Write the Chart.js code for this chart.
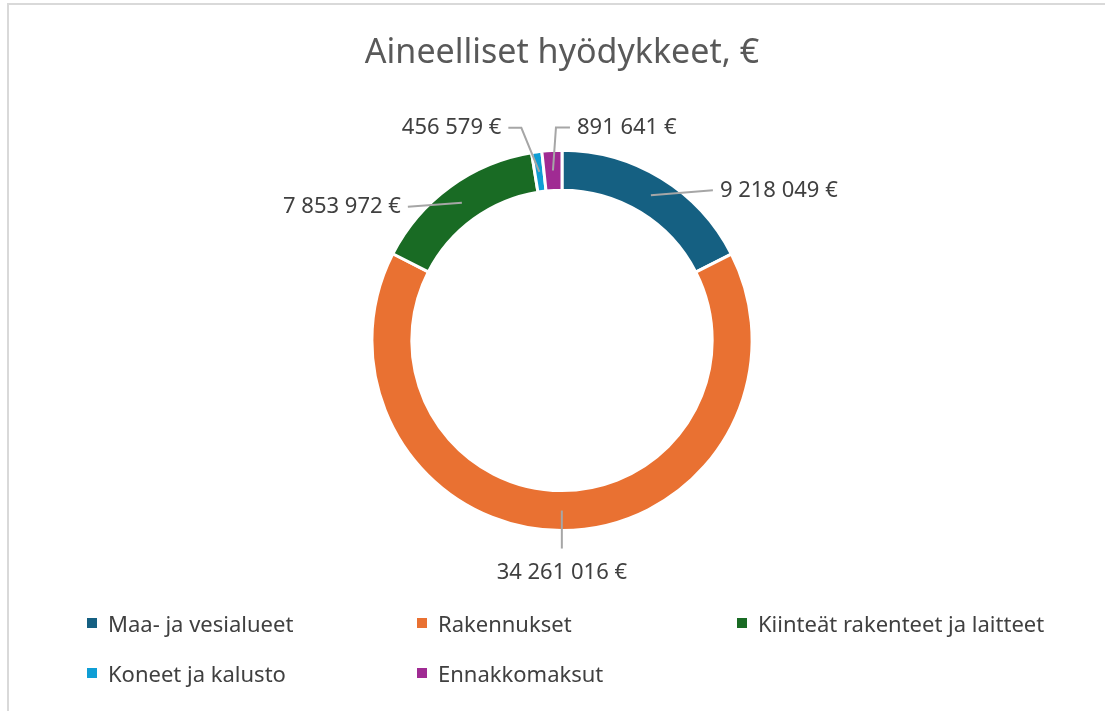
<!DOCTYPE html>
<html>
<head>
<meta charset="utf-8">
<script src="https://cdn.jsdelivr.net/npm/chart.js@4"></script>
<style>
  html, body { margin: 0; padding: 0; background: #fff; }
  #wrap { position: relative; width: 1105px; height: 711px; overflow: hidden; }
  #frame { position: absolute; left: 7px; top: 3px; width: 1200px; height: 800px; border: 2px solid #d9d9d9; box-sizing: border-box; }
  #c { position: absolute; left: 0; top: 0; }
  #legend { position: absolute; left: 87px; top: 607px; display: grid; grid-template-columns: 330px 320px auto; row-gap: 18px;
            font-family: "Noto Sans", sans-serif; font-size: 22px; color: #404040; }
  #legend div { display: flex; align-items: center; height: 32px; white-space: nowrap; }
  #legend span.box { display: inline-block; width: 10px; height: 10px; margin-right: 11px; }
</style>
</head>
<body>
<div id="wrap">
  <div id="frame"></div>
  <canvas id="c" width="1105" height="711"></canvas>
  <div id="legend"></div>
</div>
<script>
// Luokat ja arvot (€)
const categories = ["Maa- ja vesialueet", "Rakennukset", "Kiinteät rakenteet ja laitteet", "Koneet ja kalusto", "Ennakkomaksut"];
const values = [9218049, 34261016, 7853972, 456579, 891641];
const colors = ["#156082", "#E97132", "#196B24", "#0F9ED5", "#A02B93"];

// Selitelinjojen taitepisteet suhteessa renkaan keskikohtaan
const labelOffsets = [
  { pts: [[62, -5]], align: "left" },
  { pts: [[0, 38]], align: "below" },
  { pts: [[-54, 4]], align: "right" },
  { pts: [[-18, -44], [-31, -44]], align: "right" },
  { pts: [[3, -43], [17, -43]], align: "left" }
];

function fmt(v) {
  return String(v).replace(/\B(?=(\d{3})+(?!\d))/g, " ") + " €";
}

const leaderLabels = {
  id: "leaderLabels",
  afterDatasetsDraw(chart) {
    const ctx = chart.ctx;
    const meta = chart.getDatasetMeta(0);
    ctx.save();
    meta.data.forEach((arc, i) => {
      const p = arc.getProps(["x", "y", "startAngle", "endAngle", "innerRadius", "outerRadius"], true);
      const a = (p.startAngle + p.endAngle) / 2;
      const r = (p.innerRadius + p.outerRadius) / 2;
      const x0 = p.x + Math.cos(a) * r;
      const y0 = p.y + Math.sin(a) * r;
      const lay = labelOffsets[i];
      ctx.strokeStyle = "#a6a6a6";
      ctx.lineWidth = 2;
      ctx.beginPath();
      ctx.moveTo(x0, y0);
      lay.pts.forEach(pt => ctx.lineTo(x0 + pt[0], y0 + pt[1]));
      ctx.stroke();
      const last = lay.pts[lay.pts.length - 1];
      const ex = x0 + last[0], ey = y0 + last[1];
      ctx.fillStyle = "#404040";
      ctx.font = "22px 'Noto Sans'";
      ctx.textBaseline = "middle";
      const txt = fmt(values[i]);
      if (lay.align === "left") {
        ctx.textAlign = "left";
        ctx.fillText(txt, ex + 7, ey);
      } else if (lay.align === "right") {
        ctx.textAlign = "right";
        ctx.fillText(txt, ex - 7, ey);
      } else {
        ctx.textAlign = "center";
        ctx.fillText(txt, ex, ey + 24);
      }
    });
    ctx.restore();
  }
};

new Chart(document.getElementById("c"), {
  type: "doughnut",
  data: {
    labels: categories,
    datasets: [{
      data: values,
      backgroundColor: colors,
      borderColor: "#ffffff",
      borderWidth: 3
    }]
  },
  options: {
    responsive: false,
    animation: false,
    cutout: "79%",
    layout: { padding: { top: 19, bottom: 179, left: 19, right: 0 } },
    plugins: {
      legend: { display: false },
      tooltip: { enabled: false },
      title: {
        display: true,
        text: "Aineelliset hyödykkeet, €",
        color: "#595959",
        font: { family: "Noto Sans", size: 34, weight: "normal" },
        padding: { top: 14, bottom: 75 }
      }
    }
  },
  plugins: [leaderLabels]
});

// Selite
const legend = document.getElementById("legend");
categories.forEach((c, i) => {
  const d = document.createElement("div");
  d.innerHTML = '<span class="box" style="background:' + colors[i] + '"></span>' + c;
  legend.appendChild(d);
});
</script>
</body>
</html>
